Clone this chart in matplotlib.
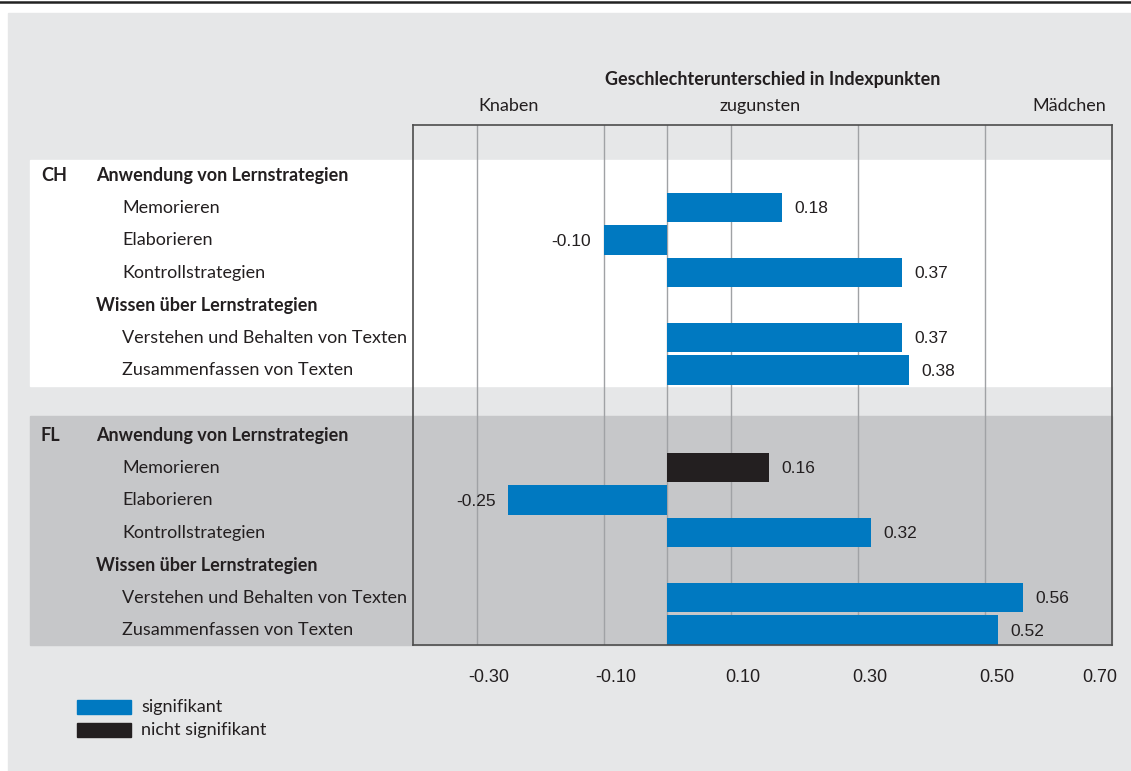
import numpy as np
import matplotlib.pyplot as plt
from matplotlib.patches import Rectangle
from matplotlib.lines import Line2D
from matplotlib.transforms import blended_transform_factory

plt.rcParams['font.family'] = ['Lato', 'DejaVu Sans']

# data
countries = ["CH", "FL"]
headers = ["Anwendung von Lernstrategien", "Wissen über Lernstrategien"]
items = ["Memorieren", "Elaborieren", "Kontrollstrategien",
         "Verstehen und Behalten von Texten", "Zusammenfassen von Texten"]
ch_values = [0.18, -0.10, 0.37, 0.37, 0.38]
fl_values = [0.16, -0.25, 0.32, 0.56, 0.52]
ch_signif = [True, True, True, True, True]
fl_signif = [False, True, True, True, True]
grid_values = [-0.30, -0.10, 0.0, 0.10, 0.30, 0.50]
tick_values = [-0.30, -0.10, 0.10, 0.30, 0.50, 0.70]

W, H = 1131, 771
BLUE = "#0079c1"
BLACK = "#231f20"
BG = "#e6e7e8"
DARKBAND = "#c6c7c9"
TXT = "#231f20"
FS = 13


def fx(px):
    return px / W


def fy(py):
    return 1 - py / H


fig = plt.figure(figsize=(W / 100, H / 100), dpi=100, facecolor="white")
fig.patches.append(Rectangle((fx(8), 0), 1, fy(13), transform=fig.transFigure,
                             color=BG, zorder=-5))
fig.lines.append(Line2D([0, 1], [fy(2), fy(2)], transform=fig.transFigure,
                        color="#222222", lw=1.8))

ax = fig.add_axes([fx(413), fy(645), fx(1112) - fx(413), fy(125) - fy(645)])
ax.set_facecolor(BG)
ax.set_xlim(-0.40, 0.70)
ax.set_ylim(14.46, -1.54)
ax.set_xticks([])
ax.set_yticks([])
for sp in ax.spines.values():
    sp.set_color("#4d4d4d")
    sp.set_linewidth(1.2)
    sp.set_zorder(5)

left_ext = (30 - 413) / (1112 - 413)
band_tr = blended_transform_factory(ax.transAxes, ax.transData)
ax.add_patch(Rectangle((left_ext, -0.46), 1 - left_ext, 6.95, transform=band_tr,
                       color="white", clip_on=False, zorder=0))
ax.add_patch(Rectangle((left_ext, 7.42), 1 - left_ext, 7.04, transform=band_tr,
                       color=DARKBAND, clip_on=False, zorder=0))

for g in grid_values:
    ax.axvline(g, color="#a0a2a5", lw=1.0, zorder=1)

label_tr = blended_transform_factory(fig.transFigure, ax.transData)
for gi, (country, values, signif) in enumerate([(countries[0], ch_values, ch_signif),
                                                 (countries[1], fl_values, fl_signif)]):
    base = gi * 8
    ax.text(fx(41), base, country, transform=label_tr, fontsize=FS,
            fontweight="bold", va="center", ha="left", color=TXT)
    ax.text(fx(96), base, headers[0], transform=label_tr, fontsize=FS,
            fontweight="bold", va="center", ha="left", color=TXT)
    ax.text(fx(96), base + 4, headers[1], transform=label_tr, fontsize=FS,
            fontweight="bold", va="center", ha="left", color=TXT)
    ypos = [base + 1, base + 2, base + 3, base + 5, base + 6]
    for y, lab, v, s in zip(ypos, items, values, signif):
        ax.text(fx(122), y, lab, transform=label_tr, fontsize=FS,
                va="center", ha="left", color=TXT)
        ax.barh(y, v, height=0.9, color=BLUE if s else BLACK, zorder=3)
        off = 9 if v >= 0 else -9
        ax.annotate(f"{v:.2f}", (v, y), xytext=(off, -1), textcoords="offset points",
                    ha="left" if v >= 0 else "right", va="center", fontsize=12.5,
                    family=["Liberation Sans", "DejaVu Sans"], color=TXT)

tick_tr = blended_transform_factory(ax.transData, fig.transFigure)
for t in tick_values:
    xt = t + 0.019 if t < 0.65 else t - 0.02
    ax.text(xt, fy(677), f"{t:.2f}", transform=tick_tr, ha="center", va="center",
            fontsize=13, family=["Liberation Sans", "DejaVu Sans"], color=TXT)

fig.text(fx(773), fy(79), "Geschlechterunterschied in Indexpunkten", ha="center",
         va="center", fontsize=FS, fontweight="bold", color=TXT)
fig.text(fx(509), fy(106), "Knaben", ha="center", va="center", fontsize=FS, color=TXT)
fig.text(fx(760), fy(106), "zugunsten", ha="center", va="center", fontsize=FS, color=TXT)
fig.text(fx(1106), fy(106), "Mädchen", ha="right", va="center", fontsize=FS, color=TXT)

# legend
fig.patches.append(Rectangle((fx(77), fy(714)), fx(131) - fx(77), fy(700) - fy(714),
                             transform=fig.transFigure, color=BLUE))
fig.patches.append(Rectangle((fx(77), fy(737)), fx(131) - fx(77), fy(723) - fy(737),
                             transform=fig.transFigure, color=BLACK))
fig.text(fx(141), fy(707), "signifikant", va="center", ha="left", fontsize=FS, color=TXT)
fig.text(fx(141), fy(730), "nicht signifikant", va="center", ha="left", fontsize=FS,
         color=TXT)

fig.savefig("out.png", dpi=100, facecolor=fig.get_facecolor())
